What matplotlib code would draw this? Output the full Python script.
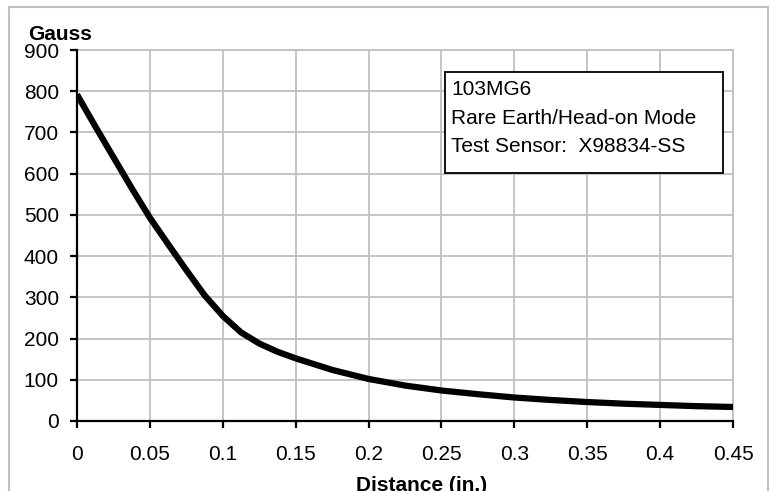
import matplotlib
matplotlib.use('Agg')
import matplotlib.pyplot as plt
from matplotlib.patches import Rectangle

# distance (in.) vs field (Gauss)
distance = [0.0, 0.0125, 0.025, 0.0375, 0.05, 0.0625, 0.075, 0.0875, 0.1,
            0.1125, 0.125, 0.1375, 0.15, 0.175, 0.2, 0.225, 0.25, 0.275,
            0.3, 0.325, 0.35, 0.375, 0.4, 0.425, 0.45]
gauss = [792, 715, 640, 565, 493, 429, 366, 305, 255,
         215, 188, 168, 152, 124, 102, 86, 74, 65,
         57, 51, 46, 42, 39, 36, 34]
x_ticks = [0, 0.05, 0.1, 0.15, 0.2, 0.25, 0.3, 0.35, 0.4, 0.45]
x_tick_labels = ['0', '0.05', '0.1', '0.15', '0.2', '0.25', '0.3', '0.35', '0.4', '0.45']
y_ticks = list(range(0, 901, 100))
note_lines = ['103MG6', 'Rare Earth/Head-on Mode', 'Test Sensor:  X98834-SS']

plt.rcParams['font.family'] = ['Liberation Sans', 'DejaVu Sans']
W, H = 775, 491
grid_col = '#c0c0c0'

fig = plt.figure(figsize=(W / 100, H / 100), dpi=100)
ax = fig.add_axes([77 / W, 1 - 421 / H, (733 - 77) / W, (421 - 50) / H])

ax.plot(distance, gauss, color='black', lw=4.5, solid_capstyle='butt',
        solid_joinstyle='round', zorder=3)

ax.set_xlim(0, 0.45)
ax.set_ylim(0, 900)
ax.set_xticks(x_ticks)
ax.set_xticklabels(x_tick_labels)
ax.set_yticks(y_ticks)
ax.grid(True, color=grid_col, lw=1.3)
ax.set_axisbelow(True)
for side in ['top', 'right']:
    ax.spines[side].set_color(grid_col)
    ax.spines[side].set_linewidth(1.3)
for side in ['left', 'bottom']:
    ax.spines[side].set_linewidth(1.6)
    ax.spines[side].set_zorder(4)
ax.tick_params(direction='out', length=5, width=1.6, labelsize=15, color='black')
ax.tick_params(axis='y', pad=8)
ax.tick_params(axis='x', pad=12)

# outer chart border
fig.patches.append(Rectangle((9 / W, -0.2), (768 - 9) / W, 1.2 - 7 / H,
                             transform=fig.transFigure, fill=False,
                             ec=grid_col, lw=1.5))

# note box
fig.patches.append(Rectangle((445 / W, 1 - 173 / H), (723 - 445) / W, (173 - 72) / H,
                             transform=fig.transFigure, fc='white', ec='black',
                             lw=1.3, zorder=5))
for i, line in enumerate(note_lines):
    fig.text(451 / W, 1 - (95 + i * 28.5) / H, line, fontsize=15,
             va='baseline', ha='left', zorder=6)

fig.text(28 / W, 1 - 40 / H, 'Gauss', fontsize=15, fontweight='bold',
         va='baseline', ha='left')
fig.text(422 / W, 1 - 491 / H, 'Distance (in.)', fontsize=15, fontweight='bold',
         va='baseline', ha='center')

fig.savefig('out.png', dpi=100)
